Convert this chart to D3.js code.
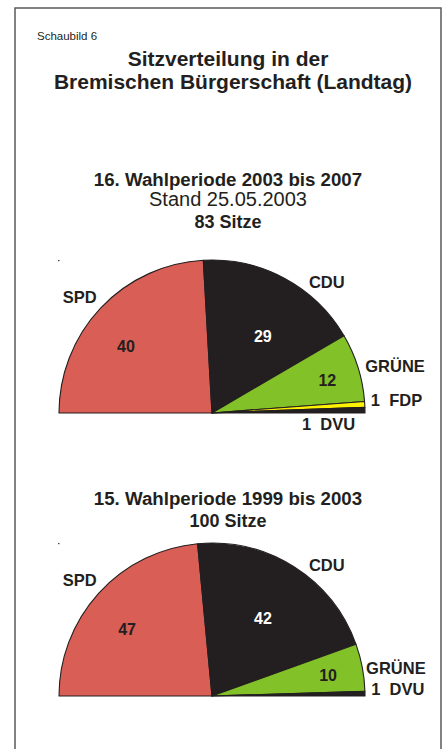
<!DOCTYPE html>
<html>
<head>
<meta charset="utf-8">
<script src="https://cdn.jsdelivr.net/npm/d3@7"></script>
<style>
  html, body { margin: 0; padding: 0; background: #fff; }
  svg { display: block; font-family: "Liberation Sans", Arial, Helvetica, sans-serif; }
  .pre { white-space: pre; }
</style>
</head>
<body>
<svg id="chart" width="446" height="749"></svg>
<script>
// ---------- data ----------
const figureLabel = "Schaubild 6";
const titleLines = ["Sitzverteilung in der", "Bremischen Bürgerschaft (Landtag)"];

const period1Title = ["16. Wahlperiode 2003 bis 2007", "Stand 25.05.2003", "83 Sitze"];
const period1Parties = ["SPD", "CDU", "GRÜNE", "FDP", "DVU"];
const period1Seats = [40, 29, 12, 1, 1];

const period2Title = ["15. Wahlperiode 1999 bis 2003", "100 Sitze"];
const period2Parties = ["SPD", "CDU", "GRÜNE", "DVU"];
const period2Seats = [47, 42, 10, 1];

// ---------- styles ----------
const partyColor = d3.scaleOrdinal()
  .domain(["SPD", "CDU", "GRÜNE", "FDP", "DVU"])
  .range(["#d95e55", "#231f20", "#82c127", "#fff200", "#231f20"]);
const ink = "#231f20";

// ---------- layout ----------
const svg = d3.select("#chart");
const W = 446, H = 749;
const R = 153;

// frame
svg.append("path")
  .attr("d", `M15,${H + 5} L15,8 L441,8 L441,${H + 5}`)
  .attr("fill", "none").attr("stroke", "#5a5a5a").attr("stroke-width", 1.5);

svg.append("text").attr("x", 37).attr("y", 40)
  .attr("font-size", 11.5).attr("fill", ink).text(figureLabel);

svg.append("text").attr("x", 228).attr("y", 66).attr("text-anchor", "middle")
  .attr("font-size", 21).attr("font-weight", "bold").attr("fill", ink).text(titleLines[0]);
svg.append("text").attr("x", 233).attr("y", 89).attr("text-anchor", "middle")
  .attr("font-size", 21).attr("font-weight", "bold").attr("fill", ink).text(titleLines[1]);

// label layout: polar positions (angle in degrees measured from the left end of the half circle, radius in px)
const layout1 = {
  cx: 212, cy: 413,
  titleY: [186, 206, 228], titleBold: [true, false, true], titleSize: [18.7, 20, 18],
  names: {
    SPD:   { a: 41.3, r: 176, anchor: "middle", text: "SPD" },
    CDU:   { a: 131.3, r: 174, anchor: "middle", text: "CDU" },
    GRÜNE: { a: 165.6, r: 189, anchor: "middle", text: "GRÜNE" },
    FDP:   { a: 176,  r: 185, anchor: "middle", text: "1  FDP" },
    DVU:   { a: 185.4, r: 117, anchor: "middle", text: "1  DVU" }
  },
  numbers: {
    SPD:   { a: 37.9, r: 109 },
    CDU:   { a: 123.5, r: 92 },
    GRÜNE: { a: 164, r: 120 }
  }
};
const layout2 = {
  cx: 212, cy: 696,
  titleY: [505, 527], titleBold: [true, true], titleSize: [18.7, 18],
  names: {
    SPD:   { a: 41.3, r: 176, anchor: "middle", text: "SPD" },
    CDU:   { a: 131.3, r: 174, anchor: "middle", text: "CDU" },
    GRÜNE: { a: 171.3, r: 186, anchor: "middle", text: "GRÜNE" },
    DVU:   { a: 177.8, r: 186, anchor: "middle", text: "1  DVU" }
  },
  numbers: {
    SPD:   { a: 38.2, r: 108 },
    CDU:   { a: 123.2, r: 93 },
    GRÜNE: { a: 169.7, r: 118 }
  }
};

const pie = d3.pie().sort(null).value(d => d.seats)
  .startAngle(-Math.PI / 2).endAngle(Math.PI / 2);
const arc = d3.arc().innerRadius(0).outerRadius(R);
const deg = d3.scaleLinear().domain([0, 180]).range([0, Math.PI]);

function polar(L, a, r) {
  const t = deg(a);
  return [L.cx - r * Math.cos(t), L.cy - r * Math.sin(t)];
}

function drawChart(titles, parties, seats, L) {
  titles.forEach((t, i) => {
    svg.append("text").attr("x", 228).attr("y", L.titleY[i]).attr("text-anchor", "middle")
      .attr("font-size", L.titleSize[i]).attr("font-weight", L.titleBold[i] ? "bold" : "normal")
      .attr("fill", ink).text(t);
  });

  const data = parties.map((p, i) => ({ party: p, seats: seats[i] }));
  const g = svg.append("g").attr("transform", `translate(${L.cx},${L.cy})`);

  // stray corner mark of the original artwork
  g.append("rect").attr("x", -R - 1).attr("y", -R).attr("width", 1.5).attr("height", 1.2).attr("fill", "#444");

  g.selectAll("path.slice").data(pie(data)).join("path")
    .attr("class", "slice")
    .attr("d", arc)
    .attr("fill", d => partyColor(d.data.party))
    .attr("stroke", ink).attr("stroke-width", 1.1).attr("stroke-linejoin", "round");

  data.forEach(d => {
    const nl = L.names[d.party];
    if (nl) {
      const [x, y] = polar(L, nl.a, nl.r);
      svg.append("text").attr("class", "pre").attr("x", x).attr("y", y).attr("dy", "0.36em")
        .attr("text-anchor", nl.anchor).attr("font-size", 16.5).attr("font-weight", "bold")
        .attr("fill", ink).text(nl.text);
    }
    const num = L.numbers[d.party];
    if (num) {
      const [x, y] = polar(L, num.a, num.r);
      svg.append("text").attr("x", x).attr("y", y).attr("dy", "0.36em")
        .attr("text-anchor", "middle").attr("font-size", 16).attr("font-weight", "bold")
        .attr("fill", d.party === "CDU" ? "#ffffff" : ink).text(d.seats);
    }
  });
}

drawChart(period1Title, period1Parties, period1Seats, layout1);
drawChart(period2Title, period2Parties, period2Seats, layout2);
</script>
</body>
</html>
